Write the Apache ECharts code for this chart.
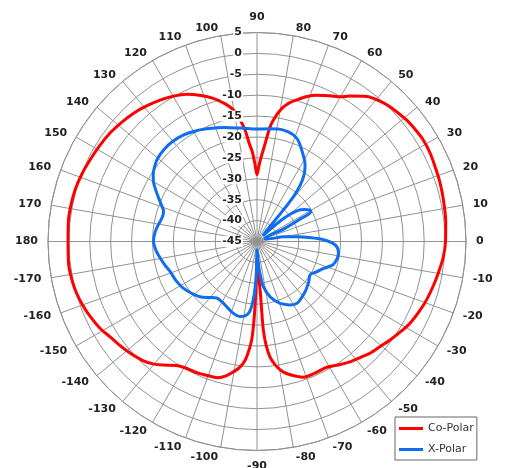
<!DOCTYPE html>
<html><head><meta charset="utf-8">
<script src="https://cdn.jsdelivr.net/npm/echarts/dist/echarts.min.js"></script>
<style>html,body{margin:0;padding:0;background:#fff}#c{width:505px;height:468px}</style>
</head><body><div id="c"></div>
<script>
const seriesNames = ['Co-Polar', 'X-Polar'];
const seriesColors = ['#ff0000', '#0f6ef0'];

const coPolarAngle = [-180,-173,-168,-164,-160,-156,-151,-147,-143,-139,-134,-130,-126,-123,-120,-116,-113,-109,-106,-103,-100.3,-98,-96.4,-95.1,-93.1,-92.2,-91.8,-91.2,-89.5,-87.2,-86.4,-86.2,-86.1,-85.9,-85.0,-83.6,-81.3,-78.7,-75,-71.3,-66,-61,-56,-52.3,-48,-44.7,-40,-36.5,-32,-28.1,-23,-19,-14,-10,-5,0,6,12.6,18,22.8,27,31.4,35,39,45.4,49,52.9,57.4,60.2,63.4,67.8,71,74.3,77.5,80,82,83.5,85.5,87,88.5,90,91.5,93,94.5,96.2,98,100.2,103,107,111,115.5,120,124.4,129,134,139,143.6,149,154,159,164.2,169,173.5,180];
const coPolarGain = [0.2,0.4,0.2,-0.1,-0.6,-1.2,-2.1,-3.1,-3.8,-4.5,-5.5,-6.7,-8.4,-9.6,-10.2,-10.4,-10.6,-10.9,-11.1,-12.0,-13.3,-14.5,-15.7,-17.3,-21.4,-26.2,-29.4,-33.4,-41,-37.5,-33.5,-31.7,-27.4,-23.8,-20.1,-17.2,-14.9,-13.2,-11.8,-10.7,-10.6,-10.6,-9.5,-8.6,-7.8,-7.0,-6.2,-5.4,-4.4,-3.5,-2.7,-2.1,-1.5,-1.0,-0.3,0.1,0.4,0.7,1.0,1.2,1.5,1.6,1.4,1.1,0.3,-0.4,-1.5,-3.7,-5.1,-6.0,-7.2,-8.3,-9.8,-11.3,-13.1,-15.3,-17.4,-22,-24.5,-26.8,-29,-26.5,-23.5,-21.5,-18,-15.5,-13.0,-11.2,-9.2,-7.6,-6.0,-4.9,-4.0,-3.2,-2.4,-1.8,-1.3,-0.9,-0.55,-0.1,0.24,0.35,0.4,0.2];

const xPolarAngle = [-180,-176,-172,-166,-161,-154,-148,-142,-136,-130,-125.6,-120,-115,-109,-103,-99,-96,-94,-92.4,-91,-90,-88,-86,-84.5,-82,-76.7,-72,-69.6,-62.5,-57,-52.9,-45,-38,-32,-27,-22,-17,-12,-8,-4,-1,2,4,7,10,14,20,25,27.5,29,31,34,37,41,45,48,50,51,52.5,55,58,62,69,77,84,90,98,106,114,120,125,130,135,140,143,147,150,153,156,159,162,166,170,175,180];
const xPolarGain = [-20.2,-20.6,-21.2,-22.2,-23.0,-23.5,-24.1,-25.0,-26.0,-27.5,-28.4,-28.3,-27.8,-27.0,-26.6,-27.0,-28.1,-30.5,-33.8,-38,-43,-42,-39,-37,-34.1,-31.4,-29.9,-29.2,-27.9,-27.4,-27.7,-28.5,-29.3,-30.0,-29.0,-27.8,-26.0,-25.4,-25.3,-25.8,-27.0,-29.5,-32,-35.5,-38.6,-42.5,-43,-38,-33,-30.3,-30.3,-31.3,-32.5,-36.5,-43,-42,-36,-31,-28,-25.3,-23.3,-21.5,-18.5,-17.6,-17.9,-18.1,-17.6,-16.6,-15.5,-14.6,-14.0,-13.7,-13.7,-14.0,-14.5,-15.4,-16.4,-17.8,-19.2,-20.5,-21.5,-21.6,-21.1,-20.5,-20.2];

const radiusMin = -45, radiusMax = 5, radiusStep = 5;
const angleMin = -270, angleMax = 90, angleStep = 10;

function toPolar(angles, gains) {
  return angles.map((a, i) => [gains[i], a > angleMax ? a - 360 : a]);
}
function angleLabelText(v) { return String(v <= -180 ? v + 360 : v); }

const gridColor = '#929292';
const FONT = 'DejaVu Sans', FS = 11, LH = 12;
const labelFont = { fontFamily: FONT, fontWeight: 'bold', fontSize: FS, color: '#222' };
const center = [257, 241.5];
const R = 209;
const M = -10;

// per-label rich styles so labels sit just outside the ring, corner-anchored
const ctx = document.createElement('canvas').getContext('2d');
ctx.font = 'bold ' + FS + 'px "' + FONT + '"';
const rich = {};
for (let v = angleMin; v < angleMax; v += angleStep) {
  const text = angleLabelText(v);
  const w = ctx.measureText(text).width;
  const th = v * Math.PI / 180, c = Math.cos(th), s = Math.sin(th);
  const Px = R * c, Py = -R * s;
  const px = (R + M) * c, py = -(R + M) * s;
  const tx = Math.abs(c) < 0.02 ? Px : Px + Math.sign(c) * (1 + 9 * Math.abs(c) + w / 2);
  let ty = Py - (LH / 2 + 4) * s + (s > 0 ? 2 * s : 0);
  if (Math.abs(s) > 0.99) ty -= (s > 0 ? 7 : 6) * Math.sign(s);
  const align = Math.abs(px) / R < 0.3 ? 'center' : (px > 0 ? 'left' : 'right');
  const valign = Math.abs(py) / R < 0.3 ? 'middle' : (py > 0 ? 'top' : 'bottom');
  let pl = 0, pr = 0, pt = 0, pb = 0;
  if (align === 'left') pl = tx - w / 2 - px;
  else if (align === 'right') pr = px - (tx + w / 2);
  else { const d = 2 * (tx - px); if (d > 0) pl = d; else pr = -d; }
  const base = valign === 'middle' ? py : (valign === 'top' ? py + LH / 2 : py - LH / 2);
  const dv = ty - base;
  if (dv > 0) pt = 2 * dv; else pb = -2 * dv;
  rich['a' + (v - angleMin)] = Object.assign({}, labelFont, {
    lineHeight: LH,
    padding: [pt, Math.max(0, pr), pb, Math.max(0, pl)]
  });
}

const chart = echarts.init(document.getElementById('c'));
chart.setOption({
  animation: false,
  backgroundColor: '#fff',
  polar: [{ center: center, radius: R }, { center: center, radius: R }],
  angleAxis: [
    { polarIndex: 0, type: 'value', min: angleMin, max: angleMax, interval: angleStep, startAngle: 90, clockwise: false,
      axisLine: { lineStyle: { color: gridColor, width: 1 } },
      axisTick: { show: false },
      splitLine: { show: true, lineStyle: { color: gridColor, width: 1 } },
      axisLabel: Object.assign({}, labelFont, { margin: M, rich: rich,
        formatter: v => { const k = Math.round(v); return '{a' + (k - angleMin) + '|' + angleLabelText(k) + '}'; } }) },
    { polarIndex: 1, type: 'value', min: angleMin, max: angleMax, interval: angleStep, startAngle: 90, clockwise: false,
      axisLine: { show: false }, axisTick: { show: false }, splitLine: { show: false }, axisLabel: { show: false } }
  ],
  radiusAxis: [
    { polarIndex: 0, type: 'value', min: radiusMin, max: radiusMax, interval: radiusStep,
      axisLine: { show: false }, axisTick: { show: false }, axisLabel: { show: false },
      splitLine: { show: true, lineStyle: { color: gridColor, width: 1 } } },
    { polarIndex: 1, type: 'value', min: radiusMin, max: radiusMax, interval: radiusStep, z: 10,
      axisLine: { show: false }, axisTick: { show: false }, splitLine: { show: false },
      axisLabel: Object.assign({}, labelFont, { margin: 14, backgroundColor: '#fff', padding: [0, 1] }) }
  ],
  legend: {
    orient: 'vertical', left: 395, top: 417,
    data: seriesNames.map(n => ({ name: n, icon: 'rect' })),
    itemWidth: 24, itemHeight: 3, itemGap: 10,
    padding: [6, 3, 5, 4],
    borderColor: '#666', borderWidth: 1, backgroundColor: '#fff',
    textStyle: { fontFamily: FONT, fontSize: 11, color: '#333' }
  },
  series: [
    { name: seriesNames[0], type: 'line', coordinateSystem: 'polar', polarIndex: 0,
      data: toPolar(coPolarAngle, coPolarGain), showSymbol: false, symbol: 'none', smooth: 0.3,
      lineStyle: { color: seriesColors[0], width: 3 }, itemStyle: { color: seriesColors[0] } },
    { name: seriesNames[1], type: 'line', coordinateSystem: 'polar', polarIndex: 0,
      data: toPolar(xPolarAngle, xPolarGain), showSymbol: false, symbol: 'none', smooth: 0.3,
      lineStyle: { color: seriesColors[1], width: 3 }, itemStyle: { color: seriesColors[1] } }
  ]
});
</script></body></html>
